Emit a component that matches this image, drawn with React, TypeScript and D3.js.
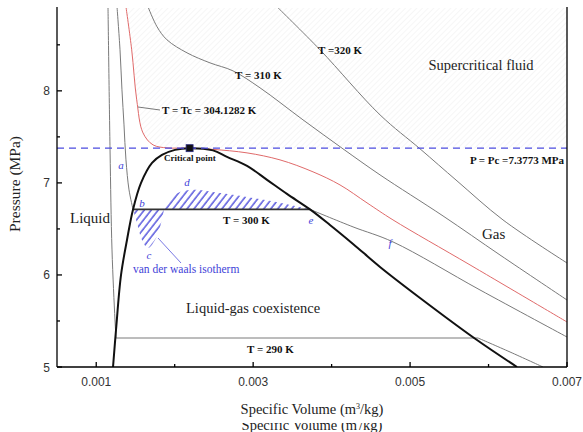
import React from 'react';
import * as d3 from 'd3';

const W = 583;
const H = 432;
const PL = 57, PR = 567, PT = 8, PB = 367;

const xDomain = [0.0005, 0.007];
const yDomain = [5, 8.9];
const xMajorTicks = [0.001, 0.003, 0.005, 0.007];
const xMinorTicks = [0.002, 0.004, 0.006];
const yMajorTicks = [5, 6, 7, 8];
const yMinorTicks = [5.5, 6.5, 7.5, 8.5];

const Pc = 7.3773;
const vc = 0.00219;

// saturation dome
const domeV = [1.214, 1.252, 1.316, 1.392, 1.469, 1.571, 1.711, 1.838, 2.004, 2.19, 2.488, 2.667, 2.922, 3.177, 3.431, 3.725, 3.979, 4.273, 4.617, 5.127, 5.853, 6.363].map(v => v / 1000);
const domeP = [5.0, 5.402, 6.0, 6.38, 6.712, 7.0, 7.217, 7.304, 7.359, 7.3773, 7.353, 7.283, 7.185, 7.033, 6.88, 6.712, 6.543, 6.337, 6.087, 5.75, 5.293, 5.0];

// T = Tc isotherm
const tcV = [1.379, 1.452, 1.516, 1.596, 1.724, 1.902, 2.029, 2.19, 2.488, 2.922, 3.342, 3.763, 4.107, 4.451, 4.782, 5.764, 7.0].map(v => v / 1000);
const tcP = [8.913, 8.446, 7.902, 7.543, 7.413, 7.38, 7.378, 7.3773, 7.364, 7.326, 7.25, 7.12, 6.978, 6.783, 6.598, 6.109, 5.489];

// T = 310 K
const t310V = [1.66, 1.775, 1.902, 2.157, 2.45, 2.743, 3.087, 3.635, 4.145, 4.617, 5.42, 6.146, 7.0].map(v => v / 1000);
const t310P = [8.913, 8.696, 8.554, 8.413, 8.304, 8.217, 8.033, 7.685, 7.37, 7.087, 6.641, 6.217, 5.728];

// T = 320 K
const t320V = [3.304, 3.852, 4.617, 5.127, 5.598, 6.184, 7.0].map(v => v / 1000);
const t320P = [8.913, 8.446, 7.739, 7.37, 7.022, 6.598, 6.13];

// T = 300 K
const t300LiqV = [1.265, 1.303, 1.328, 1.354, 1.379, 1.418, 1.469].map(v => v / 1000);
const t300LiqP = [8.913, 8.446, 8.011, 7.63, 7.25, 6.924, 6.712];
const t300Psat = 6.712;
const t300Vb = 0.001469;
const t300Ve = 0.003725;
const t300GasV = [3.725, 4.273, 4.782, 5.891, 7.0].map(v => v / 1000);
const t300GasP = [6.712, 6.522, 6.359, 5.837, 5.326];

// van der Waals loop
const loopLowV = [1.469, 1.52, 1.583, 1.66, 1.749, 1.813, 1.864].map(v => v / 1000);
const loopLowP = [6.712, 6.565, 6.38, 6.293, 6.38, 6.522, 6.712];
const loopUpV = [1.864, 1.966, 2.068, 2.195, 2.412, 2.577, 2.922, 3.342, 3.725].map(v => v / 1000);
const loopUpP = [6.712, 6.848, 6.902, 6.924, 6.913, 6.891, 6.848, 6.783, 6.712];

// T = 290 K
const t290LiqV = [1.15, 1.176, 1.201, 1.239, 1.252].map(v => v / 1000);
const t290LiqP = [8.913, 7.359, 6.272, 5.511, 5.315];
const t290Psat = 5.315;
const t290Vl = 0.001252;
const t290Vg = 0.005866;
const t290GasV = [5.866, 6.274, 6.694].map(v => v / 1000);
const t290GasP = [5.315, 5.163, 5.0];

const xTickLabels = ['0.001', '0.003', '0.005', '0.007'];
const yTickLabels = ['5', '6', '7', '8'];

const zip = (a: number[], b: number[]) => a.map((v, i) => [v, b[i]] as [number, number]);

const SERIF = '"Liberation Serif", "Times New Roman", serif';
const SANS = '"Liberation Sans", Arial, sans-serif';
const BLUE = '#3f3fd8';

export default function App() {
  const x = d3.scaleLinear().domain(xDomain).range([PL, PR]);
  const y = d3.scaleLinear().domain(yDomain).range([PB, PT]);
  const line = d3.line<[number, number]>()
    .x(d => x(d[0]))
    .y(d => y(d[1]))
    .curve(d3.curveCatmullRom.alpha(0.5));
  const straight = d3.line<[number, number]>().x(d => x(d[0])).y(d => y(d[1]));

  // supercritical region: above Pc and right of Tc isotherm
  const tcUpper = zip(tcV, tcP).filter(d => d[0] <= vc + 1e-9);
  const superPath = line(tcUpper) +
    `L${x(xDomain[1])},${y(Pc)}L${x(xDomain[1])},${y(9.2)}L${x(tcV[0])},${y(9.2)}Z`;

  const lowLoop = line(zip(loopLowV, loopLowP)) + 'Z';
  const upLoop = line(zip(loopUpV, loopUpP)) + 'Z';

  const grey = '#7a7a7a';

  return (
    <svg width={W} height={H} style={{ position: 'absolute', left: 0, top: 0, display: 'block', background: '#fff' }}>
      <defs>
        <clipPath id="plot">
          <rect x={PL} y={PT} width={PR - PL} height={PB - PT} />
        </clipPath>
        <clipPath id="ghost">
          <rect x={0} y={423} width={W} height={12} />
        </clipPath>
        <pattern id="faint" patternUnits="userSpaceOnUse" width={4} height={4} patternTransform="rotate(45)">
          <line x1={0} y1={0} x2={0} y2={4} stroke="#ededed" strokeWidth={1} />
        </pattern>
        <pattern id="blueHatch" patternUnits="userSpaceOnUse" width={5.5} height={5.5} patternTransform="rotate(38)">
          <line x1={1} y1={0} x2={1} y2={5.5} stroke={BLUE} strokeWidth={1.3} />
        </pattern>
      </defs>

      <rect x={0} y={0} width={W} height={H} fill="#fff" />

      <g clipPath="url(#plot)">
        <path d={superPath} fill="url(#faint)" stroke="none" />
        <path d={lowLoop} fill="url(#blueHatch)" stroke="none" />
        <path d={upLoop} fill="url(#blueHatch)" stroke="none" />

        <path d={line(zip(t320V, t320P)) || ''} fill="none" stroke={grey} strokeWidth={1} />
        <path d={line(zip(t310V, t310P)) || ''} fill="none" stroke={grey} strokeWidth={1} />
        <path d={line(zip(tcV, tcP)) || ''} fill="none" stroke="#e06a6a" strokeWidth={1} />

        <path d={line(zip(t300LiqV, t300LiqP)) || ''} fill="none" stroke={grey} strokeWidth={1} />
        <path d={line(zip(t300GasV, t300GasP)) || ''} fill="none" stroke={grey} strokeWidth={1} />
        <path d={straight([[t300Vb, t300Psat], [t300Ve, t300Psat]]) || ''} fill="none" stroke="#333" strokeWidth={1.6} />

        <path d={line(zip(t290LiqV, t290LiqP)) || ''} fill="none" stroke={grey} strokeWidth={1} />
        <path d={straight([[t290Vl, t290Psat], [t290Vg, t290Psat]]) || ''} fill="none" stroke={grey} strokeWidth={1} />
        <path d={line(zip(t290GasV, t290GasP)) || ''} fill="none" stroke={grey} strokeWidth={1} />

        <path d={line(zip(domeV, domeP)) || ''} fill="none" stroke="#111" strokeWidth={2} />

        <line x1={x(xDomain[0])} x2={x(xDomain[1])} y1={y(Pc)} y2={y(Pc)} stroke="#4c4ce0" strokeWidth={1.4} strokeDasharray="7 5" />
        <rect x={x(vc) - 3.5} y={y(Pc) - 3.5} width={7} height={7} fill="#111" stroke="#2a2a80" strokeWidth={0.8} />
      </g>

      {/* axes */}
      <g stroke="#000" strokeWidth={1.3} fill="none">
        <line x1={PL} x2={PL} y1={PT - 1} y2={PB} />
        <line x1={PR} x2={PR} y1={PT - 1} y2={PB} />
        <line x1={PL} x2={PR} y1={PB} y2={PB} />
        {xMajorTicks.map(t => <line key={'xM' + t} x1={x(t)} x2={x(t)} y1={PB} y2={PB - 5} />)}
        {xMinorTicks.map(t => <line key={'xm' + t} x1={x(t)} x2={x(t)} y1={PB} y2={PB - 3} />)}
        {yMajorTicks.map(t => <line key={'yM' + t} x1={PL} x2={PL + 5} y1={y(t)} y2={y(t)} />)}
        {yMinorTicks.map(t => <line key={'ym' + t} x1={PL} x2={PL + 3} y1={y(t)} y2={y(t)} />)}
      </g>
      <g fontFamily={SANS} fontSize={12} fill="#333">
        {xMajorTicks.map((t, i) => (
          <text key={'xl' + t} x={x(t)} y={PB + 19} textAnchor="middle">{xTickLabels[i]}</text>
        ))}
        {yMajorTicks.map((t, i) => (
          <text key={'yl' + t} x={PL - 7} y={y(t) + 4.5} textAnchor="end">{yTickLabels[i]}</text>
        ))}
      </g>

      {/* axis titles */}
      <text transform="translate(20,184) rotate(-90)" textAnchor="middle" fontFamily={SERIF} fontSize={15.5} fill="#222">Pressure (MPa)</text>
      <text x={312} y={414} textAnchor="middle" fontFamily={SERIF} fontSize={14.5} fill="#222">
        Specific Volume (m<tspan dy={-5} fontSize={8}>3</tspan><tspan dy={5}>/kg)</tspan>
      </text>
      <g clipPath="url(#ghost)">
        <text x={312} y={430} textAnchor="middle" fontFamily={SERIF} fontSize={14.5} fill="#222">
          Specific Volume (m<tspan dy={-5} fontSize={8}> </tspan><tspan dy={5}>/kg)</tspan>
        </text>
      </g>

      {/* region labels */}
      <g fontFamily={SERIF} fill="#222">
        <text x={481} y={70} fontSize={14.5} textAnchor="middle">Supercritical fluid</text>
        <text x={70} y={223} fontSize={15}>Liquid</text>
        <text x={482} y={239} fontSize={15}>Gas</text>
        <text x={186} y={313} fontSize={14.5}>Liquid-gas coexistence</text>
      </g>

      {/* isotherm labels */}
      <g fontFamily={SERIF} fontWeight="bold" fontSize={11} fill="#111">
        <text x={318} y={54}>T =320 K</text>
        <text x={235} y={79}>T = 310 K</text>
        <text x={162} y={114}>T = Tc = 304.1282 K</text>
        <text x={564} y={164} textAnchor="end">P = Pc =7.3773 MPa</text>
        <text x={223} y={224}>T = 300 K</text>
        <text x={247} y={353}>T = 290 K</text>
        <text x={164} y={161} fontSize={9}>Critical point</text>
      </g>
      <line x1={138} y1={107} x2={160} y2={110} stroke="#555" strokeWidth={0.8} />

      {/* van der Waals annotations */}
      <g fontFamily={SERIF} fontStyle="italic" fontSize={11} fill={BLUE} textAnchor="middle">
        <text x={121} y={169}>a</text>
        <text x={142} y={207}>b</text>
        <text x={149} y={259}>c</text>
        <text x={187} y={186}>d</text>
        <text x={311} y={224}>e</text>
        <text x={390} y={247}>f</text>
      </g>
      <line x1={158} y1={238} x2={181} y2={263} stroke={BLUE} strokeWidth={0.7} />
      <text x={133} y={273} fontFamily={SERIF} fontSize={11.5} fill={BLUE}>van der waals isotherm</text>
    </svg>
  );
}
